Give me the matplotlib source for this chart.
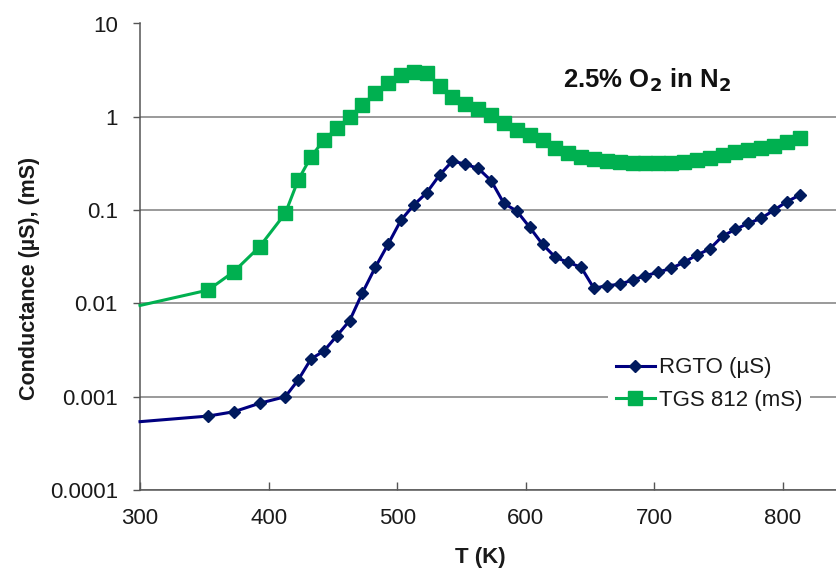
import matplotlib
matplotlib.use("Agg")
import matplotlib.pyplot as plt
from matplotlib.ticker import FixedLocator, NullLocator

plt.rcParams['font.family'] = ['Liberation Sans', 'DejaVu Sans']

# temperature (K); first entry is where the curves enter at the left axis (no marker)
temp = [300, 353, 373, 393, 413, 423, 433, 443, 453, 463, 473, 483, 493, 503, 513,
        523, 533, 543, 553, 563, 573, 583, 593, 603, 613, 623, 633, 643, 653, 663,
        673, 683, 693, 703, 713, 723, 733, 743, 753, 763, 773, 783, 793, 803, 813]

rgto = [0.00054, 0.00062, 0.00069, 0.00085, 0.0010, 0.00151, 0.00254, 0.00309, 0.00448,
        0.00653, 0.013, 0.0244, 0.0433, 0.0783, 0.1135, 0.154, 0.238, 0.336, 0.31,
        0.28, 0.207, 0.118, 0.0977, 0.0655, 0.043, 0.0312, 0.0275, 0.0244, 0.0145,
        0.0155, 0.016, 0.0178, 0.0198, 0.0216, 0.0238, 0.0275, 0.033, 0.0383, 0.0527,
        0.0622, 0.0722, 0.0816, 0.1, 0.123, 0.145]

tgs = [0.0095, 0.0139, 0.0219, 0.0405, 0.0925, 0.21, 0.373, 0.564, 0.753, 1.0, 1.34,
       1.81, 2.32, 2.81, 3.04, 2.92, 2.14, 1.64, 1.37, 1.2, 1.04, 0.85, 0.72, 0.64,
       0.564, 0.459, 0.406, 0.373, 0.353, 0.336, 0.325, 0.317, 0.317, 0.317, 0.317,
       0.33, 0.344, 0.359, 0.39, 0.423, 0.44, 0.467, 0.49, 0.54, 0.597]

yticks = [0.0001, 0.001, 0.01, 0.1, 1, 10]
ytick_labels = ["0.0001", "0.001", "0.01", "0.1", "1", "10"]
xticks = [300, 400, 500, 600, 700, 800]

fig = plt.figure(figsize=(8.37, 5.73), dpi=100)
ax = fig.add_axes([140/837, 1-490/573, 1-140/837, (490-23.5)/573])

ax.plot(temp, rgto, color="#000080", lw=2.2, marker="D", ms=6.5,
        mfc="#001A5E", mec="#001A5E", markevery=slice(1, None), label="RGTO (µS)",
        zorder=4, clip_on=False)
ax.plot(temp, tgs, color="#00B050", lw=2.2, marker="s", ms=9.5,
        mfc="#00B050", mec="#00B050", markevery=slice(1, None), label="TGS 812 (mS)",
        zorder=3, clip_on=False)

ax.set_yscale("log")
ax.set_ylim(0.0001, 10)
ax.set_xlim(300, 842)
ax.yaxis.set_major_locator(FixedLocator(yticks))
ax.yaxis.set_minor_locator(NullLocator())
ax.set_yticklabels(ytick_labels)
ax.set_xticks(xticks)
ax.grid(axis="y", color="#7F7F7F", lw=1.1)
ax.set_axisbelow(True)

for s in ["top", "right"]:
    ax.spines[s].set_visible(False)
for s in ["left", "bottom"]:
    ax.spines[s].set_color("#555555")
    ax.spines[s].set_linewidth(1.1)

ax.tick_params(axis="y", direction="out", length=5, width=1, color="#555555",
               labelsize=16, pad=11, labelcolor="#1a1a1a")
ax.tick_params(axis="x", direction="in", length=6, width=1, color="#555555",
               labelsize=16, pad=13, labelcolor="#1a1a1a")

fig.text(30/837, 1-278/573, "Conductance (µS), (mS)", rotation=90, ha="center",
         va="center", fontsize=15.5, fontweight="bold", color="#1a1a1a")
fig.text(480/837, 1-557/573, "T (K)", ha="center", va="center", fontsize=16,
         fontweight="bold", color="#1a1a1a")
fig.text(647/837, 1-80/573, "2.5% O$_\\mathbf{2}$ in N$_\\mathbf{2}$", ha="center",
         va="center", fontsize=18.5, fontweight="bold", color="#111111")

leg = ax.legend(loc="center left", bbox_to_anchor=(608/837, 1-384/573),
                bbox_transform=fig.transFigure, frameon=True, fancybox=False,
                framealpha=1, edgecolor="none", fontsize=16, handlelength=1.75,
                handletextpad=0.2, labelspacing=0.5, borderpad=0.35,
                borderaxespad=0, numpoints=1)
for t in leg.get_texts():
    t.set_color("#1a1a1a")

fig.savefig("out.png", dpi=100)
